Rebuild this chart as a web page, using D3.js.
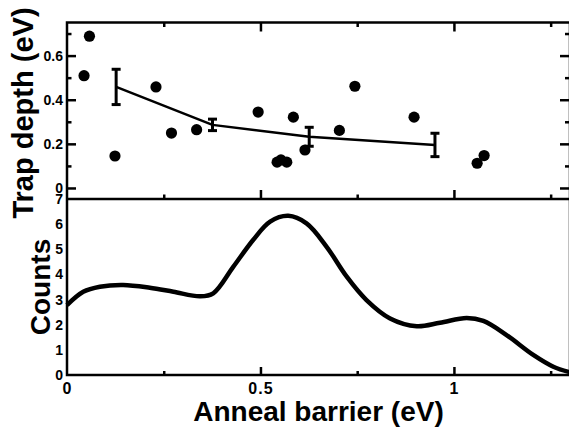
<!DOCTYPE html>
<html>
<head>
<meta charset="utf-8">
<script src="https://cdn.jsdelivr.net/npm/d3@7"></script>
<style>
  html, body { margin: 0; padding: 0; background: #fff; }
  svg { display: block; }
  text { font-family: "Liberation Sans", Arial, Helvetica, sans-serif; font-weight: bold; fill: #000; }
</style>
</head>
<body>
<svg id="chart" width="569" height="427"></svg>
<script>
// Individual trap depths vs. anneal barrier (scatter)
const scatterBarrier = [0.044, 0.058, 0.124, 0.230, 0.270, 0.335, 0.494, 0.543, 0.553, 0.568, 0.585, 0.615, 0.704, 0.744, 0.897, 1.060, 1.078];
const scatterDepth   = [0.509, 0.688, 0.145, 0.458, 0.249, 0.264, 0.344, 0.117, 0.127, 0.117, 0.321, 0.172, 0.261, 0.461, 0.321, 0.112, 0.147];

// Binned averages with error bars
const binBarrier = [0.127, 0.376, 0.626, 0.951];
const binDepth   = [0.458, 0.286, 0.232, 0.195];
const binError   = [0.080, 0.026, 0.043, 0.053];

// Distribution of anneal barriers (smoothed counts)
const countBarrier = [0, 0.042, 0.085, 0.145, 0.214, 0.275, 0.344, 0.378, 0.430, 0.481, 0.525, 0.572, 0.619, 0.671, 0.723, 0.774, 0.835, 0.904, 0.964, 1.033, 1.076, 1.136, 1.205, 1.257, 1.300];
const countValue   = [2.78, 3.31, 3.51, 3.58, 3.47, 3.31, 3.13, 3.25, 4.31, 5.37, 6.10, 6.33, 6.03, 5.10, 3.91, 2.98, 2.25, 1.94, 2.08, 2.27, 2.15, 1.59, 0.80, 0.33, 0.11];

// Axis ticks
const xMajorTicks = [0, 0.5, 1];
const xMinorTicks = [0.25, 0.75, 1.25];
const depthMajorTicks = [0, 0.2, 0.4, 0.6];
const depthMinorTicks = [0.1, 0.3, 0.5, 0.7];
const countTicks = [0, 1, 2, 3, 4, 5, 6, 7];

const svg = d3.select("#chart");

const plotLeft = 67, plotRight = 570, plotTop = 22.5, plotMid = 199, plotBottom = 375;

const x = d3.scaleLinear().domain([0, 1.3]).range([plotLeft, plotRight]);
const yDepth = d3.scaleLinear().domain([-0.05, 0.75]).range([plotMid, plotTop]);
const yCount = d3.scaleLinear().domain([0, 7]).range([plotBottom, plotMid]);

const fmtDepth = d => d === 0 ? "0" : d3.format(".1f")(d);
const fmtX = d => d === 0 ? "0" : d3.format("~g")(d);

function styleAxis(g, fontSize) {
  g.select(".domain").remove();
  g.selectAll(".tick line").attr("stroke", "#000").attr("stroke-width", 2.5);
  g.selectAll(".tick text").style("font-size", fontSize + "px").attr("fill", "#000");
  g.attr("font-family", null).attr("font-size", null);
}

// ---- Top panel axes ----
svg.append("g").attr("transform", `translate(${plotLeft},0)`)
  .call(d3.axisLeft(yDepth).tickValues(depthMajorTicks).tickFormat(fmtDepth).tickSizeInner(-9).tickSizeOuter(0).tickPadding(4))
  .call(g => styleAxis(g, 14));
svg.append("g").attr("transform", `translate(${plotLeft},0)`)
  .call(d3.axisLeft(yDepth).tickValues(depthMinorTicks).tickFormat("").tickSizeInner(-4.5).tickSizeOuter(0))
  .call(g => styleAxis(g, 14));
svg.append("g").attr("transform", `translate(${plotRight},0)`)
  .call(d3.axisRight(yDepth).tickValues(depthMajorTicks).tickFormat("").tickSizeInner(-10).tickSizeOuter(0))
  .call(g => styleAxis(g, 14));
svg.append("g").attr("transform", `translate(${plotRight},0)`)
  .call(d3.axisRight(yDepth).tickValues(depthMinorTicks).tickFormat("").tickSizeInner(-5).tickSizeOuter(0))
  .call(g => styleAxis(g, 14));

// x ticks on top border and on the panel divider
[[d3.axisTop, plotTop], [d3.axisBottom, plotMid]].forEach(([axisFn, yPos]) => {
  svg.append("g").attr("transform", `translate(0,${yPos})`)
    .call(axisFn(x).tickValues(xMajorTicks.filter(v => v > 0)).tickFormat("").tickSizeInner(-9).tickSizeOuter(0))
    .call(g => styleAxis(g, 14));
  svg.append("g").attr("transform", `translate(0,${yPos})`)
    .call(axisFn(x).tickValues(xMinorTicks).tickFormat("").tickSizeInner(-4.5).tickSizeOuter(0))
    .call(g => styleAxis(g, 14));
});

// ---- Bottom panel axes ----
svg.append("g").attr("transform", `translate(0,${plotBottom})`)
  .call(d3.axisBottom(x).tickValues(xMajorTicks).tickFormat(fmtX).tickSizeInner(-8).tickSizeOuter(0).tickPadding(8))
  .call(g => styleAxis(g, 16))
  .call(g => g.selectAll(".tick text").style("letter-spacing", "1px"))
  .call(g => g.selectAll(".tick line").filter(d => d === 0).remove());
svg.append("g").attr("transform", `translate(0,${plotBottom})`)
  .call(d3.axisBottom(x).tickValues(xMinorTicks).tickFormat("").tickSizeInner(-4).tickSizeOuter(0))
  .call(g => styleAxis(g, 16));
svg.append("g").attr("transform", `translate(${plotLeft},0)`)
  .call(d3.axisLeft(yCount).tickValues(countTicks).tickFormat(d3.format("d")).tickSize(0).tickPadding(4))
  .call(g => styleAxis(g, 14));

// ---- Frame ----
svg.append("rect")
  .attr("x", plotLeft).attr("y", plotTop)
  .attr("width", plotRight - plotLeft).attr("height", plotBottom - plotTop)
  .attr("fill", "none").attr("stroke", "#000").attr("stroke-width", 2.5);
svg.append("line")
  .attr("x1", plotLeft).attr("x2", plotRight).attr("y1", plotMid).attr("y2", plotMid)
  .attr("stroke", "#000").attr("stroke-width", 2.5);

// ---- Top panel marks ----
const scatter = scatterBarrier.map((b, i) => ({ b, d: scatterDepth[i] }));
svg.append("g").selectAll("circle").data(scatter).join("circle")
  .attr("cx", p => x(p.b)).attr("cy", p => yDepth(p.d)).attr("r", 5.6).attr("fill", "#000");

const bins = binBarrier.map((b, i) => ({ b, d: binDepth[i], e: binError[i] }));
svg.append("path").datum(bins)
  .attr("fill", "none").attr("stroke", "#000").attr("stroke-width", 2.5).attr("stroke-linejoin", "round")
  .attr("d", d3.line().x(p => x(p.b)).y(p => yDepth(p.d)));

const eb = svg.append("g").attr("stroke", "#000").attr("stroke-width", 3).attr("fill", "none");
bins.forEach(p => {
  const cx = x(p.b), y0 = yDepth(p.d - p.e), y1 = yDepth(p.d + p.e);
  eb.append("line").attr("x1", cx).attr("x2", cx).attr("y1", y0).attr("y2", y1);
  eb.append("line").attr("x1", cx - 4.5).attr("x2", cx + 4.5).attr("y1", y0).attr("y2", y0);
  eb.append("line").attr("x1", cx - 4.5).attr("x2", cx + 4.5).attr("y1", y1).attr("y2", y1);
});

// ---- Bottom panel curve ----
const counts = countBarrier.map((b, i) => ({ b, c: countValue[i] }));
svg.append("path").datum(counts)
  .attr("fill", "none").attr("stroke", "#000").attr("stroke-width", 4.5).attr("stroke-linejoin", "round")
  .attr("d", d3.line().x(p => x(p.b)).y(p => yCount(p.c)).curve(d3.curveCatmullRom.alpha(0.5)));

// ---- Axis titles ----
svg.append("text")
  .attr("x", (plotLeft + plotRight) / 2).attr("y", 421)
  .attr("text-anchor", "middle").style("font-size", "28px")
  .text("Anneal barrier (eV)");
svg.append("text")
  .attr("transform", "translate(33,113) rotate(-90)")
  .attr("text-anchor", "middle").style("font-size", "29px")
  .text("Trap depth (eV)");
svg.append("text")
  .attr("transform", `translate(50,${(plotMid + plotBottom) / 2}) rotate(-90)`)
  .attr("text-anchor", "middle").style("font-size", "28px")
  .text("Counts");
</script>
</body>
</html>
